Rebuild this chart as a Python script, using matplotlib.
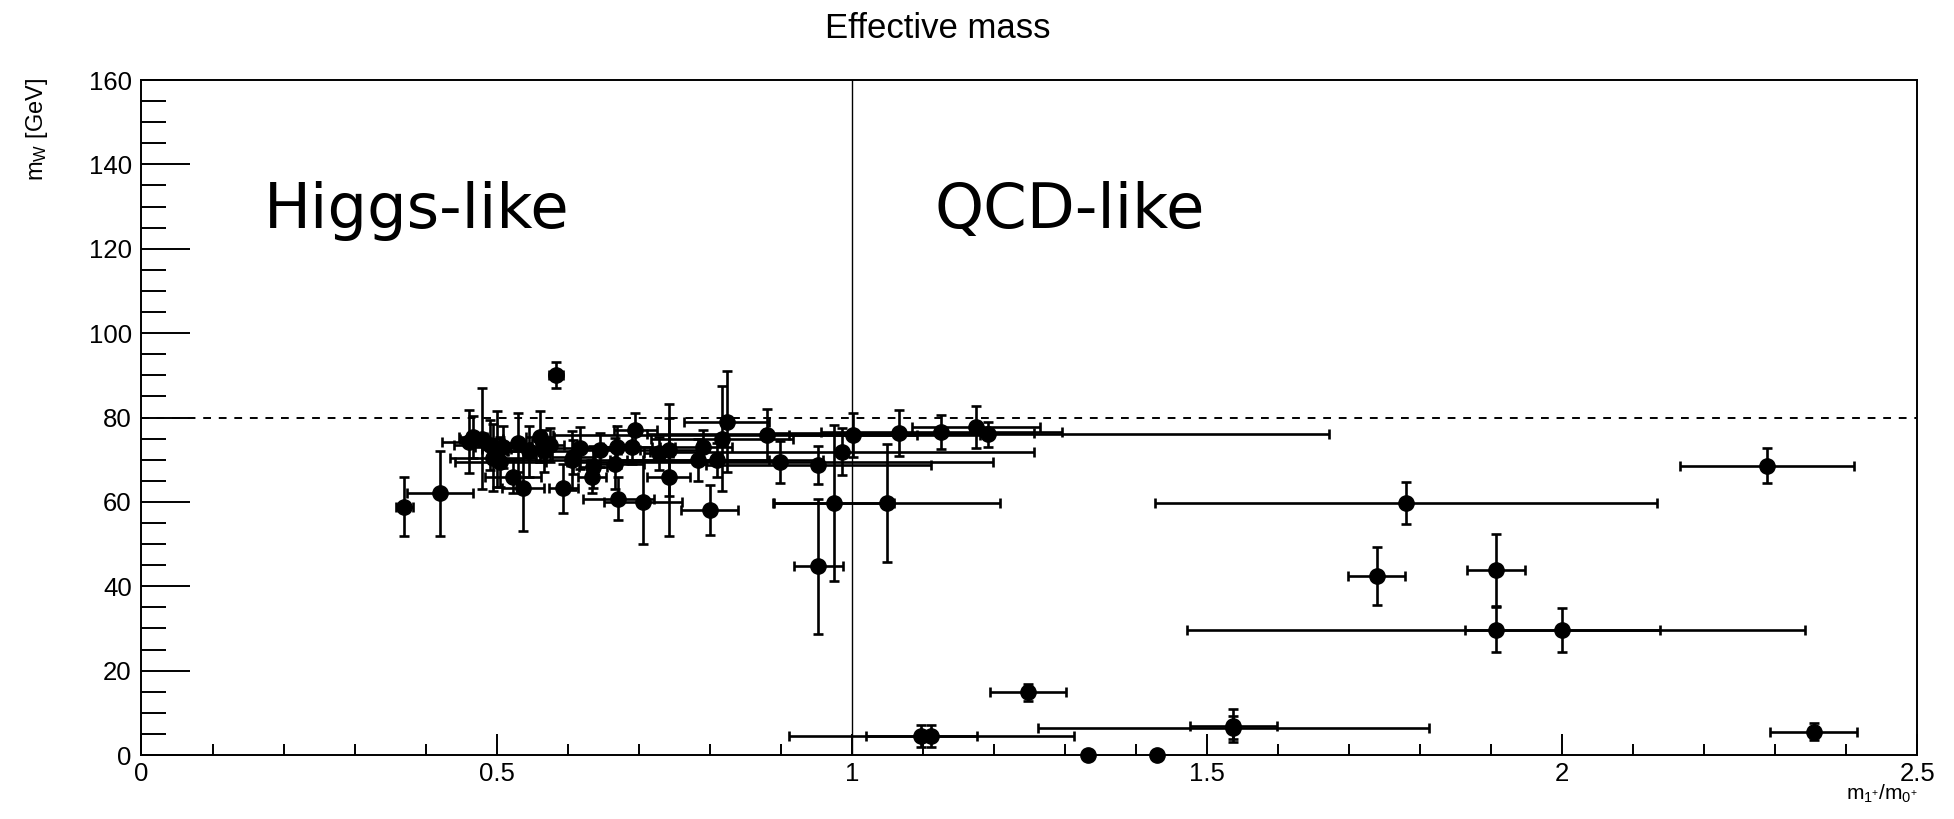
import numpy as np
import matplotlib
matplotlib.use("Agg")
import matplotlib.pyplot as plt

plt.rcParams['font.family'] = ['Liberation Sans', 'DejaVu Sans']
plt.rcParams['mathtext.fontset'] = 'custom'
plt.rcParams['mathtext.rm'] = 'Liberation Sans'
plt.rcParams['mathtext.it'] = 'Liberation Sans'

# m1/m0 ratio, W mass [GeV] and their uncertainties
ratio = [0.370, 0.420, 0.584, 0.461, 0.467, 0.479, 0.490, 0.495, 0.500, 0.509,
         0.505, 0.523, 0.530, 0.537, 0.545, 0.561, 0.566, 0.575, 0.594, 0.608,
         0.617, 0.606, 0.636, 0.634, 0.645, 0.669, 0.667, 0.671, 0.690, 0.695,
         0.706, 0.728, 0.742, 0.742, 0.784, 0.791, 0.800, 0.810, 0.817, 0.824,
         0.880, 0.899, 0.953, 0.986, 1.001, 0.953, 0.975, 1.049, 1.067, 1.126,
         1.175, 1.192, 1.248, 1.098, 1.112, 1.333, 1.429, 1.537, 1.537, 1.739,
         1.780, 1.907, 1.907, 2.000, 2.288, 2.354]
ratio_err = [0.012, 0.046, 0.010, 0.038, 0.020, 0.030, 0.050, 0.060, 0.020, 0.040,
             0.064, 0.040, 0.020, 0.030, 0.030, 0.020, 0.050, 0.020, 0.020, 0.030,
             0.060, 0.100, 0.020, 0.020, 0.030, 0.050, 0.040, 0.050, 0.040, 0.030,
             0.055, 0.020, 0.040, 0.030, 0.100, 0.040, 0.040, 0.150, 0.100, 0.060,
             0.300, 0.300, 0.158, 0.270, 0.090, 0.034, 0.084, 0.160, 0.190, 0.170,
             0.090, 0.480, 0.053, 0.078, 0.200, 0.0, 0.0, 0.275, 0.061, 0.040,
             0.353, 0.041, 0.435, 0.137, 0.122, 0.061]
mw = [58.8, 62.0, 90.1, 74.3, 75.4, 75.0, 73.5, 70.5, 72.5, 73.1,
      69.5, 66.0, 74.0, 63.2, 72.0, 75.5, 72.0, 73.5, 63.2, 70.7,
      72.7, 69.9, 68.3, 66.0, 72.3, 73.1, 69.1, 60.8, 73.1, 77.0,
      60.0, 71.5, 72.3, 66.0, 69.9, 73.1, 58.1, 69.9, 75.0, 79.0,
      75.8, 69.5, 68.7, 71.9, 75.8, 44.8, 59.7, 59.7, 76.3, 76.6,
      77.8, 76.0, 14.9, 4.5, 4.5, 0.0, 0.0, 6.5, 7.0, 42.4,
      59.7, 43.9, 29.7, 29.7, 68.6, 5.5]
mw_err = [7.0, 10.0, 3.0, 7.5, 5.0, 12.0, 6.0, 8.0, 9.0, 5.0,
          6.0, 4.0, 7.0, 10.0, 6.0, 6.0, 5.0, 4.0, 5.8, 4.0,
          5.0, 7.0, 5.0, 4.0, 4.0, 5.0, 6.0, 5.0, 4.0, 4.0,
          10.0, 4.0, 11.0, 14.0, 5.0, 4.0, 6.0, 4.0, 12.5, 12.0,
          6.2, 5.0, 4.5, 5.5, 5.2, 16.0, 18.5, 14.0, 5.5, 4.0,
          5.0, 3.0, 2.0, 2.6, 2.6, 0.0, 0.0, 2.8, 4.0, 6.9,
          5.0, 8.5, 5.3, 5.2, 4.1, 2.0]

ratio = np.array(ratio)
ratio_err = np.array(ratio_err)
mw = np.array(mw)
mw_err = np.array(mw_err)

fig = plt.figure(figsize=(19.54, 8.19), dpi=100)
ax = fig.add_axes([0.0724, 0.0781, 0.9089, 0.8242])

has_err = (ratio_err > 0) | (mw_err > 0)
ax.errorbar(ratio[has_err], mw[has_err], xerr=ratio_err[has_err], yerr=mw_err[has_err],
            fmt='none', ecolor='black', elinewidth=1.9, capsize=3.8, capthick=1.9, zorder=3)
ax.plot(ratio, mw, 'o', color='black', ms=11, clip_on=False, zorder=4)

# W mass reference and boundary between regions
ax.axhline(80, color='black', lw=1.4, ls=(0, (4, 4)), zorder=2)
ax.axvline(1.0, color='black', lw=1.0, zorder=2)

ax.text(0.172, 125, "Higgs-like", fontsize=45, family='DejaVu Sans', va='baseline')
ax.text(1.117, 125, "QCD-like", fontsize=45, family='DejaVu Sans', va='baseline')

ax.set_xlim(0, 2.5)
ax.set_ylim(0, 160)
ax.set_xticks(np.arange(0, 2.51, 0.5))
ax.set_xticklabels(['0', '0.5', '1', '1.5', '2', '2.5'])
ax.set_xticks(np.arange(0, 2.51, 0.1), minor=True)
ax.set_yticks(np.arange(0, 161, 20))
ax.set_yticks(np.arange(0, 161, 5), minor=True)

ax.tick_params(axis='both', which='both', direction='in', top=False, right=False,
               width=1.4, labelsize=18.5)
ax.tick_params(axis='x', which='major', length=15, pad=5)
ax.tick_params(axis='x', which='minor', length=8)
ax.tick_params(axis='y', which='major', length=35, pad=7)
ax.tick_params(axis='y', which='minor', length=18)
for s in ax.spines.values():
    s.set_linewidth(1.4)

fig.text(0.0191, 0.905, "$m_W$ [GeV]", rotation=90, ha='center', va='top', fontsize=17)
fig.text(0.9813, 0.044, "$m_{1^{+}}/m_{0^{+}}$", ha='right', va='top', fontsize=15)
fig.suptitle("Effective mass", x=0.48, y=0.985, fontsize=25, va='top')

fig.savefig("out.png", dpi=100)
